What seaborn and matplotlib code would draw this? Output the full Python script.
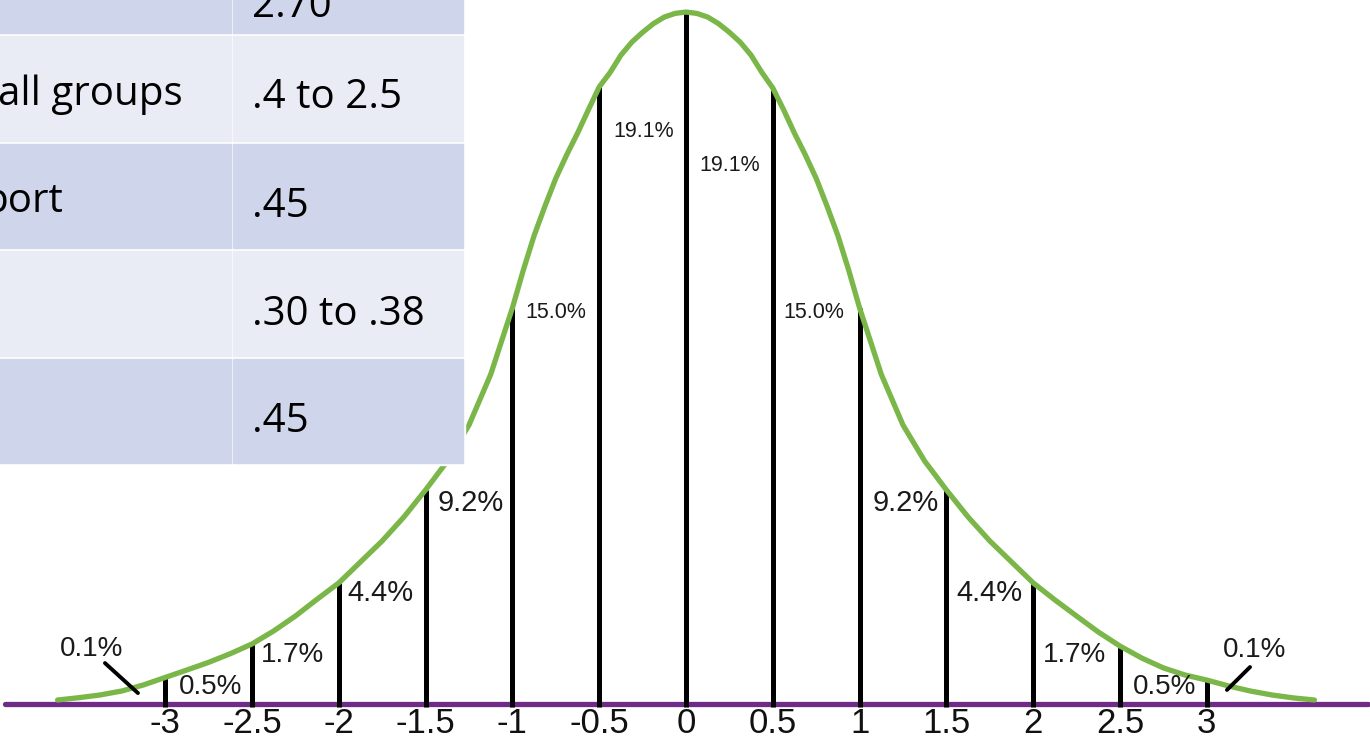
import matplotlib
matplotlib.use("Agg")
import matplotlib.pyplot as plt
import seaborn as sns
from matplotlib.patches import Rectangle

# ---------------- data ----------------
curve_x = [-3.62, -3.5, -3.375, -3.25, -3.125, -3.0, -2.875, -2.75, -2.625, -2.5,
           -2.375, -2.25, -2.125, -2.0, -1.875, -1.75, -1.625, -1.5, -1.375, -1.25,
           -1.125, -1.0, -0.9375, -0.875, -0.8125, -0.75, -0.6875, -0.625, -0.5625,
           -0.5, -0.4375, -0.375, -0.3125, -0.25, -0.1875, -0.125, -0.0625, 0.0,
           0.0625, 0.125, 0.1875, 0.25, 0.3125, 0.375, 0.4375, 0.5, 0.5625,
           0.625, 0.6875, 0.75, 0.8125, 0.875, 0.9375, 1.0, 1.125, 1.25,
           1.375, 1.5, 1.625, 1.75, 1.875, 2.0, 2.125, 2.25, 2.375, 2.5,
           2.625, 2.75, 2.875, 3.0, 3.125, 3.25, 3.375, 3.5, 3.62]
curve_y = [0.0023, 0.0036, 0.0052, 0.0075, 0.0110, 0.0153, 0.0196, 0.0240, 0.0290, 0.0346,
           0.0421, 0.0507, 0.0604, 0.0698, 0.0819, 0.0940, 0.1078, 0.1234, 0.1400, 0.1608,
           0.1900, 0.2283, 0.2500, 0.2700, 0.2870, 0.3030, 0.3165, 0.3290, 0.3425,
           0.3557, 0.3640, 0.3740, 0.3815, 0.3872, 0.3922, 0.3960, 0.3981, 0.3989,
           0.3981, 0.3960, 0.3922, 0.3872, 0.3815, 0.3740, 0.3640, 0.3551, 0.3425,
           0.3290, 0.3165, 0.3030, 0.2870, 0.2700, 0.2500, 0.2283, 0.1900, 0.1608,
           0.1400, 0.1234, 0.1078, 0.0940, 0.0819, 0.0698, 0.0600, 0.0507, 0.0415, 0.0334,
           0.0265, 0.0208, 0.0167, 0.0138, 0.0104, 0.0075, 0.0052, 0.0035, 0.0023]

boundaries = [-3, -2.5, -2, -1.5, -1, -0.5, 0, 0.5, 1, 1.5, 2, 2.5, 3]
boundary_heights = [0.0153, 0.0346, 0.0698, 0.1234, 0.2283, 0.3557, 0.3989,
                    0.3551, 0.2283, 0.1234, 0.0698, 0.0334, 0.0138]
tick_labels = ["-3", "-2.5", "-2", "-1.5", "-1", "-0.5", "0",
               "0.5", "1", "1.5", "2", "2.5", "3"]

pct_labels = ["0.1%", "0.5%", "1.7%", "4.4%", "9.2%", "15.0%", "19.1%",
              "19.1%", "15.0%", "9.2%", "4.4%", "1.7%", "0.5%", "0.1%"]
pct_x = [-3.425, -2.739, -2.264, -1.763, -1.238, -0.749, -0.245,
         0.253, 0.737, 1.267, 1.748, 2.238, 2.756, 3.278]
pct_y = [0.0317, 0.0098, 0.0282, 0.0640, 0.1159, 0.2254, 0.3303,
         0.3107, 0.2254, 0.1159, 0.0640, 0.0282, 0.0098, 0.0311]
pct_size = [20, 20, 20, 21, 21, 15.5, 15.5, 15.5, 15.5, 21, 21, 20, 20, 20]

# leader lines for the 0.1% tails: (text-side end, curve-side end)
leader_from = [(-3.347, 0.0236), (3.249, 0.0213)]
leader_to = [(-3.157, 0.0063), (3.116, 0.0081)]

# overlapping table (visible part only)
table_left = ["", "all groups", "port", "", ""]
table_right = ["2.70", ".4 to 2.5", ".45", ".30 to .38", ".45"]

# ---------------- styling ----------------
sns.set_theme(style="white")
plt.rcParams["font.family"] = ["Liberation Sans", "DejaVu Sans"]
plt.rcParams["axes.unicode_minus"] = False

GREEN = "#7ab648"
PURPLE = "#702a87"
DARK = "#CFD5EA"
LIGHT = "#E9EBF5"

W, H = 1370, 745
fig = plt.figure(figsize=(13.7, 7.45), dpi=100)
base_px = 704
ax = fig.add_axes([0, (H - base_px) / H, 1, base_px / H])
px_per_x = 173.6
px_per_y = 1734.7
ax.set_xlim(-686 / px_per_x, (W - 686) / px_per_x)
ax.set_ylim(0, base_px / px_per_y)

# purple baseline
ax.axhline(0, xmin=5 / W, xmax=1368 / W, color=PURPLE, lw=3.8, zorder=1.5,
           clip_on=False)
# black boundary lines
ax.vlines(boundaries, -3 / px_per_y, boundary_heights, color="black",
          lw=3.6, zorder=2, clip_on=False)
# green curve
sns.lineplot(x=curve_x, y=curve_y, ax=ax, color=GREEN, lw=3.8, zorder=3,
             sort=False, clip_on=False)

for t, x, y, s in zip(pct_labels, pct_x, pct_y, pct_size):
    ax.text(x, y, t, ha="center", va="center", fontsize=s, color="#1a1a1a",
            zorder=4)
for a, b in zip(leader_from, leader_to):
    ax.annotate("", xy=b, xytext=a,
                arrowprops=dict(arrowstyle="-", lw=2.8, color="black",
                                shrinkA=0, shrinkB=0))

ax.set_xticks(boundaries)
ax.set_xticklabels(tick_labels, fontsize=25, color="#111111")
ax.tick_params(axis="x", length=0, pad=2)
ax.set_yticks([])
for sp in ax.spines.values():
    sp.set_visible(False)
ax.patch.set_alpha(0)

# ---------------- table overlay (pixel coordinates) ----------------
ov = fig.add_axes([0, 0, 1, 1], zorder=5)
ov.set_xlim(0, W)
ov.set_ylim(H, 0)
ov.axis("off")
ov.patch.set_alpha(0)

row_edges = [(-80, 33), (36, 141), (144, 248), (251, 356), (359, 463)]
row_colors = [DARK, LIGHT, DARK, LIGHT, DARK]
col_edges = [(-10, 231), (233, 463)]
ov.add_patch(Rectangle((-10, -80), 475, 545, color="white", zorder=1))
for (t, b), c in zip(row_edges, row_colors):
    for (l, r) in col_edges:
        ov.add_patch(Rectangle((l, t), r - l, b - t, color=c, zorder=2))

left_right_edge = [183, 183, 63, 183, 183]
left_base = [20, 105, 212, 320, 427]
num_base = [17, 108, 217, 325, 432]
for i, (lt, rt) in enumerate(zip(table_left, table_right)):
    if lt:
        ov.text(left_right_edge[i], left_base[i], lt, ha="right",
                va="baseline", fontsize=29,
                family=["Open Sans", "DejaVu Sans"], color="black", zorder=3)
    ov.text(252, num_base[i], rt, ha="left", va="baseline",
            fontsize=29, family=["Open Sans", "DejaVu Sans"],
            color="black", zorder=3)

fig.savefig("out.png", dpi=100)
